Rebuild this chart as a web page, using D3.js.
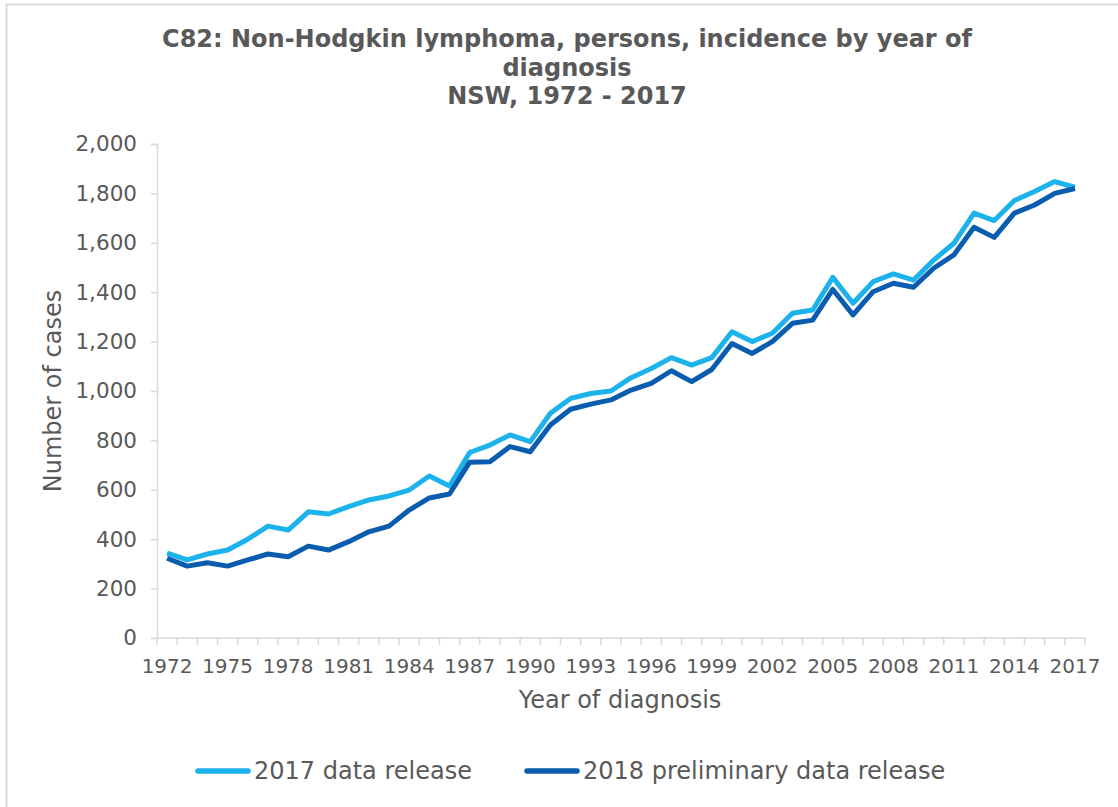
<!DOCTYPE html>
<html lang="en">
<head>
    <meta charset="UTF-8">
    <title>Non-Hodgkin lymphoma incidence</title>
    <script src="https://d3js.org/d3.v7.min.js"></script>
    <style>
        body { margin: 0; background: #fff; }
        svg { display: block; }
    </style>
</head>
<body>
    <svg id="chart" width="1118" height="807"></svg>
    <script>
        // years of diagnosis
        const years = d3.range(1972, 2018);
        // 2017 data release
        const release2017 = [344, 316, 340, 356, 400, 453, 437, 511, 502, 532,
            559, 575, 599, 656, 615, 751, 781, 822, 795, 910,
            970, 990, 1000, 1054, 1091, 1135, 1105, 1135, 1240, 1200,
            1234, 1315, 1328, 1460, 1355, 1443, 1474, 1449, 1530, 1598,
            1720, 1690, 1771, 1808, 1848, 1825];
        // 2018 preliminary data release
        const release2018 = [323, 291, 305, 291, 316, 340, 329, 372, 356, 390,
            430, 453, 518, 567, 583, 712, 714, 775, 754, 862,
            926, 947, 964, 1004, 1031, 1082, 1038, 1087, 1192, 1152,
            1200, 1274, 1287, 1411, 1308, 1402, 1436, 1420, 1497, 1551,
            1663, 1622, 1720, 1753, 1800, 1820];
        const yTicks = [0, 200, 400, 600, 800, 1000, 1200, 1400, 1600, 1800, 2000];
        const seriesNames = ["2017 data release", "2018 preliminary data release"];
        const seriesColors = ["#1cb2ec", "#0a5cae"];

        function program() {
            const svg = d3.select("#chart");
            const textColor = "#595959";
            const axisColor = "#d9d9d9";
            const font = "'DejaVu Sans', Verdana, sans-serif";

            // outer frame
            svg.append("rect")
                .attr("x", 6.5).attr("y", 4.5)
                .attr("width", 1130).attr("height", 820)
                .attr("fill", "none").attr("stroke", "#d9d9d9").attr("stroke-width", 2);

            const left = 157, right = 1085, top = 144, bottom = 638;

            const x = d3.scaleBand().domain(years).range([left, right]);
            const y = d3.scaleLinear().domain([0, 2000]).range([bottom, top]);

            // title
            const title = svg.append("text")
                .attr("text-anchor", "middle")
                .attr("fill", textColor)
                .style("font-family", font)
                .style("font-weight", "bold")
                .style("font-size", "24px");
            ["C82: Non-Hodgkin lymphoma, persons, incidence by year of", "diagnosis", "NSW, 1972 - 2017"]
                .forEach((t, i) => {
                    title.append("tspan").attr("x", 567).attr("y", 47 + i * 28.5).text(t);
                });

            // y axis
            const yAxis = svg.append("g")
                .attr("transform", `translate(${left},0)`)
                .call(d3.axisLeft(y).tickValues(yTicks).tickSize(6).tickPadding(14)
                    .tickFormat(d3.format(",")));
            yAxis.select(".domain").attr("stroke", axisColor).attr("stroke-width", 1.5);
            yAxis.selectAll(".tick line").attr("stroke", axisColor).attr("stroke-width", 1.5);
            yAxis.selectAll(".tick text")
                .attr("fill", textColor)
                .style("font-family", font)
                .style("font-size", "21.5px");

            // x axis: ticks between categories
            const xAxis = svg.append("g")
                .attr("transform", `translate(0,${bottom})`);
            xAxis.append("line")
                .attr("x1", left).attr("x2", right)
                .attr("stroke", axisColor).attr("stroke-width", 1.5);
            xAxis.selectAll(".sep")
                .data(years.concat([2018]))
                .join("line")
                .attr("x1", d => d === 2018 ? right : x(d))
                .attr("x2", d => d === 2018 ? right : x(d))
                .attr("y1", 0).attr("y2", 7)
                .attr("stroke", axisColor).attr("stroke-width", 1.5);
            xAxis.selectAll(".lbl")
                .data(years.filter((d, i) => i % 3 === 0))
                .join("text")
                .attr("x", d => x(d) + x.bandwidth() / 2)
                .attr("y", 35)
                .attr("text-anchor", "middle")
                .attr("fill", textColor)
                .style("font-family", font)
                .style("font-size", "20px")
                .text(d => d);

            // axis titles
            svg.append("text")
                .attr("x", 620).attr("y", 708)
                .attr("text-anchor", "middle")
                .attr("fill", textColor)
                .style("font-family", font)
                .style("font-size", "24px")
                .text("Year of diagnosis");
            svg.append("text")
                .attr("transform", "translate(61,391) rotate(-90)")
                .attr("text-anchor", "middle")
                .attr("fill", textColor)
                .style("font-family", font)
                .style("font-size", "24px")
                .text("Number of cases");

            // lines
            const line = d3.line()
                .x((d, i) => x(years[i]) + x.bandwidth() / 2)
                .y(d => y(d));
            [release2017, release2018].forEach((s, k) => {
                svg.append("path")
                    .datum(s)
                    .attr("d", line)
                    .attr("fill", "none")
                    .attr("stroke", seriesColors[k])
                    .attr("stroke-width", 5)
                    .attr("stroke-linejoin", "round");
            });

            // legend
            const legendX = [196, 525];
            seriesNames.forEach((name, k) => {
                const g = svg.append("g").attr("transform", `translate(${legendX[k]},771)`);
                g.append("line")
                    .attr("x1", 2).attr("x2", 52)
                    .attr("stroke", seriesColors[k]).attr("stroke-width", 5.5)
                    .attr("stroke-linecap", "round");
                g.append("text")
                    .attr("x", 58).attr("y", 8)
                    .attr("fill", textColor)
                    .style("font-family", font)
                    .style("font-size", "24px")
                    .text(name);
            });
        }

        program();
    </script>
</body>
</html>
